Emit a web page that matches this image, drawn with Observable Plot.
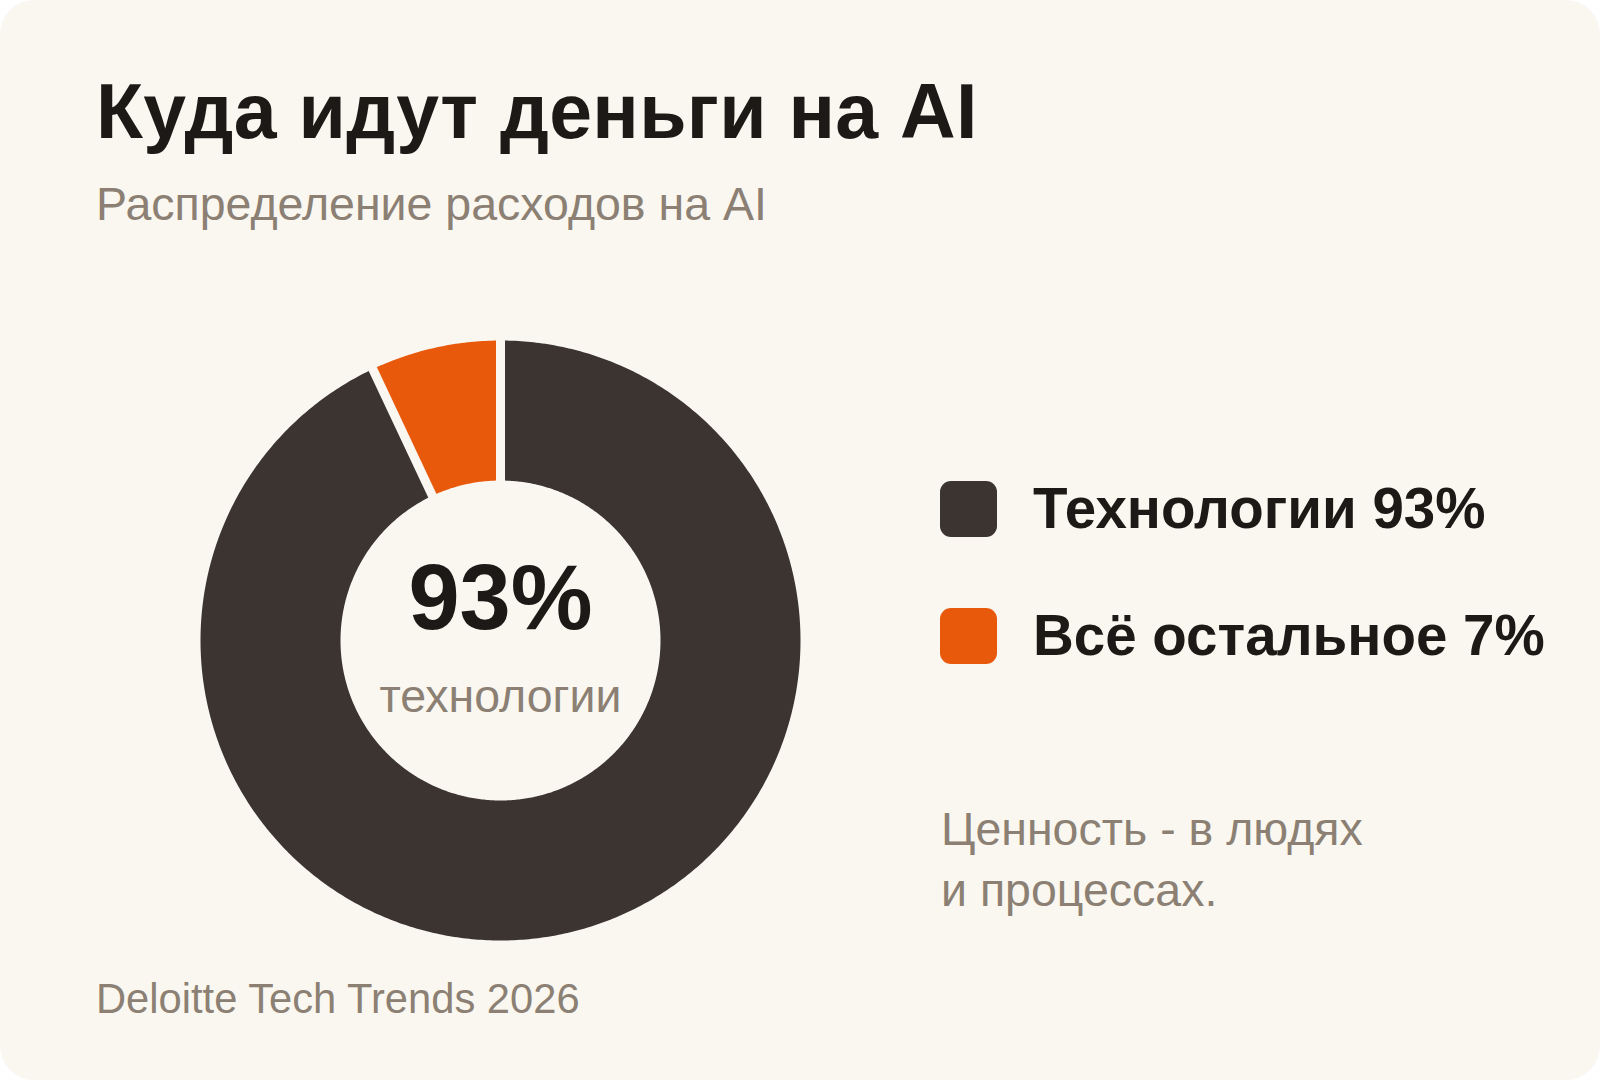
<!DOCTYPE html>
<html>
<head>
<meta charset="utf-8">
<script src="https://cdn.jsdelivr.net/npm/d3@7"></script>
<script src="https://cdn.jsdelivr.net/npm/@observablehq/plot@0.6"></script>
<style>
  html, body { margin: 0; padding: 0; background: #ffffff; }
  body { width: 1600px; height: 1080px; overflow: hidden; font-family: "Liberation Sans", Arial, Helvetica, sans-serif; }
  #card { position: absolute; left: 0; top: 0; width: 1600px; height: 1080px; background: #faf7f0; border-radius: 34px; }
  .abs { position: absolute; white-space: nowrap; line-height: 1; }
  #title { left: 96px; top: 73px; font-size: 77px; font-weight: 700; color: #1c1917; letter-spacing: 0.3px; }
  #subtitle { left: 96px; top: 181px; font-size: 46.5px; color: #8b8073; }
  #note { left: 941px; top: 799px; font-size: 46.5px; color: #8b8073; line-height: 61px; white-space: pre; }
  #footer { left: 96px; top: 978px; font-size: 41.7px; color: #8b8073; }
  #legend { left: 940px; top: 481px; }
  .item { position: absolute; left: 0; display: flex; align-items: center; }
  .sw { width: 57px; height: 56px; border-radius: 11px; }
  .lab { margin-left: 36px; font-size: 56.5px; font-weight: 700; color: #1c1917; white-space: nowrap; }
  #donut { position: absolute; left: 180px; top: 320px; }
</style>
</head>
<body>
<div id="card">
  <div id="title" class="abs"></div>
  <div id="subtitle" class="abs"></div>
  <div id="legend" class="abs"></div>
  <div id="note" class="abs"></div>
  <div id="footer" class="abs"></div>
  <div id="donut"></div>
</div>
<script>
// ---- data ----
const categories = ["Технологии", "Всё остальное"];
const values = [93, 7];
const colors = ["#3b3431", "#e8590c"];
const centerLabel = "технологии";
const titleText = "Куда идут деньги на AI";
const subtitleText = "Распределение расходов на AI";
const noteLines = ["Ценность - в людях", "и процессах."];
const sourceText = "Deloitte Tech Trends 2026";

// ---- text ----
document.getElementById("title").textContent = titleText;
document.getElementById("subtitle").textContent = subtitleText;
document.getElementById("note").textContent = noteLines.join("\n");
document.getElementById("footer").textContent = sourceText;

const legend = document.getElementById("legend");
categories.forEach((c, i) => {
  const item = document.createElement("div");
  item.className = "item";
  item.style.top = (i * 127) + "px";
  const sw = document.createElement("div");
  sw.className = "sw";
  sw.style.background = colors[i];
  const lab = document.createElement("div");
  lab.className = "lab";
  lab.textContent = `${c} ${values[i]}%`;
  item.appendChild(sw);
  item.appendChild(lab);
  legend.appendChild(item);
});

// ---- donut geometry from data ----
const outerR = 1;
const innerR = 160 / 300;
const pie = d3.pie().sort(null).value(d => d.value);
const arcs = pie(categories.map((c, i) => ({category: c, value: values[i]})));

const pts = [];
arcs.forEach(a => {
  const n = Math.max(8, Math.ceil((a.endAngle - a.startAngle) / 0.01));
  const outer = d3.range(n + 1).map(k => a.startAngle + (a.endAngle - a.startAngle) * k / n);
  outer.forEach(t => pts.push({category: a.data.category, x: outerR * Math.sin(t), y: outerR * Math.cos(t)}));
  outer.slice().reverse().forEach(t => pts.push({category: a.data.category, x: innerR * Math.sin(t), y: innerR * Math.cos(t)}));
});

const gaps = arcs.map(a => ({
  x1: (innerR - 0.05) * Math.sin(a.startAngle), y1: (innerR - 0.05) * Math.cos(a.startAngle),
  x2: (outerR + 0.05) * Math.sin(a.startAngle), y2: (outerR + 0.05) * Math.cos(a.startAngle)
}));

const chart = Plot.plot({
  width: 640,
  height: 640,
  margin: 0,
  style: {background: "transparent", overflow: "visible"},
  x: {domain: [-1, 1], range: [20, 620], axis: null},
  y: {domain: [-1, 1], range: [620, 20], axis: null},
  color: {domain: categories, range: colors},
  marks: [
    Plot.line(pts, {x: "x", y: "y", z: "category", fill: "category", stroke: "none", curve: "linear-closed"}),
    Plot.link(gaps, {x1: "x1", y1: "y1", x2: "x2", y2: "y2", stroke: "#faf7f0", strokeWidth: 9}),
    Plot.text([`${values[0]}%`], {text: d => d, frameAnchor: "middle", lineAnchor: "bottom", dy: -12,
      fontSize: 92, fontWeight: 700, fill: "#1c1917", fontFamily: "Liberation Sans, Arial, sans-serif"}),
    Plot.text([centerLabel], {text: d => d, frameAnchor: "middle", lineAnchor: "bottom", dy: 71,
      fontSize: 46.5, fill: "#8b8073", fontFamily: "Liberation Sans, Arial, sans-serif"})
  ]
});
document.getElementById("donut").appendChild(chart);
</script>
</body>
</html>
